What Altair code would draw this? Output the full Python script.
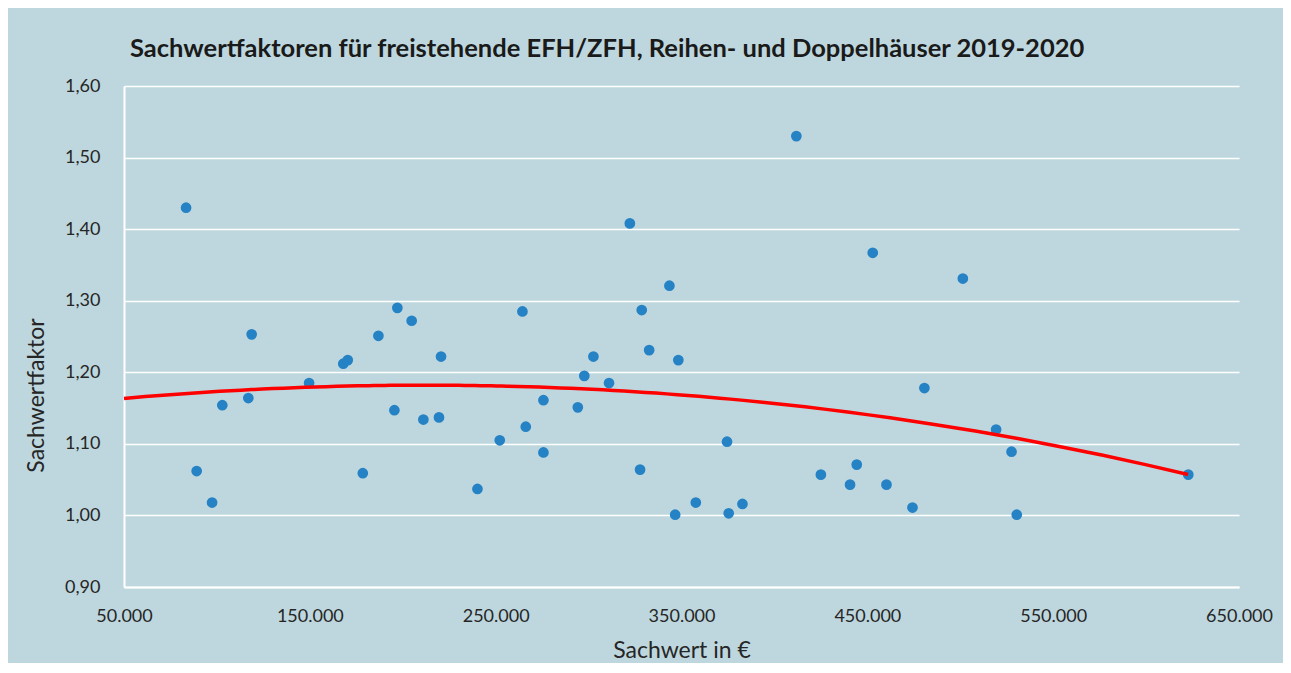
import altair as alt
import pandas as pd

# Sachwert in € (x) and Sachwertfaktor (y)
sachwert = [83400, 89100, 97400, 102900, 116900, 118700, 149600, 168000, 170400,
            178500, 186900, 195500, 197100, 204800, 211100, 219500, 220600, 240200,
            252200, 264400, 266200, 275700, 275700, 294200, 297700, 302600, 311000,
            322200, 327700, 328600, 332600, 343500, 346600, 348300, 357700, 374500,
            375400, 382800, 411800, 425000, 440700, 444300, 452900, 460300, 474300,
            480700, 501400, 519300, 527600, 530400, 622700]
faktor = [1.430, 1.062, 1.018, 1.154, 1.164, 1.253, 1.185, 1.212, 1.217,
          1.059, 1.251, 1.147, 1.290, 1.272, 1.134, 1.137, 1.222, 1.037,
          1.105, 1.285, 1.124, 1.161, 1.088, 1.151, 1.195, 1.222, 1.185,
          1.408, 1.064, 1.287, 1.231, 1.321, 1.001, 1.217, 1.018, 1.103,
          1.003, 1.016, 1.530, 1.057, 1.043, 1.071, 1.367, 1.043, 1.011,
          1.178, 1.331, 1.120, 1.089, 1.001, 1.057]

# Trendline (polynomial) points
trend_x = [50000, 160850, 216440, 270250, 322280, 395840, 489100, 550070, 622600]
trend_y = [1.1636, 1.1790, 1.1831, 1.1807, 1.1728, 1.1556, 1.1272, 1.0983, 1.0569]

x_ticks = [50000, 150000, 250000, 350000, 450000, 550000, 650000]
y_ticks = [0.9, 1.0, 1.1, 1.2, 1.3, 1.4, 1.5, 1.6]

title_text = "Sachwertfaktoren für freistehende EFH/ZFH, Reihen- und Doppelhäuser 2019-2020"

df = pd.DataFrame({"sachwert": sachwert, "faktor": faktor})
df_trend = pd.DataFrame({"sachwert": trend_x, "faktor": trend_y})

x_enc = alt.X("sachwert:Q",
              scale=alt.Scale(domain=[50000, 650000], nice=False, zero=False),
              axis=alt.Axis(values=x_ticks, format=",.0f", title="Sachwert in €",
                            grid=False, labelPadding=20, labelFlush=False,
                            titleBaseline="alphabetic", titleY=70))
y_enc = alt.Y("faktor:Q",
              scale=alt.Scale(domain=[0.9, 1.6], nice=False, zero=False),
              axis=alt.Axis(values=y_ticks, format=".2f", title="Sachwertfaktor",
                            grid=True, labelPadding=24, labelFlush=False,
                            titleAngle=270, titleBaseline="alphabetic",
                            titleAlign="center", titleX=-81, titleY=309))

points = alt.Chart(df).mark_circle(size=115, color="#2582C5", opacity=1).encode(
    x=x_enc, y=y_enc)
trend = alt.Chart(df_trend).transform_regression(
    "sachwert", "faktor", method="poly", order=3, extent=[50000, 622600]
).mark_line(color="#FF0000", strokeWidth=3.5).encode(
    x=alt.X("sachwert:Q"), y=alt.Y("faktor:Q"))

chart = alt.layer(points, trend).properties(
    width=1115, height=501,
    padding={"left": 116, "top": 78, "right": 44, "bottom": 76},
    autosize=alt.AutoSizeParams(type="none"),
    title=alt.TitleParams(title_text, anchor="start", frame="group", dx=6, dy=27,
                          offset=22, font="Lato", fontSize=25.5, fontWeight="bold",
                          color="#1A1A1A", baseline="alphabetic"),
).configure(
    background="#BED7DE",
    locale={"number": {"decimal": ",", "thousands": ".", "grouping": [3],
                       "currency": ["", " €"]}},
).configure_view(stroke=None).configure_axis(
    gridColor="#FFFFFF", gridWidth=1.4, gridOpacity=1,
    domainColor="#FFFFFF", domainWidth=2,
    ticks=False,
    labelFont="Lato", labelFontSize=18, labelColor="#262626",
    titleFont="Lato", titleFontSize=23, titleColor="#262626", titleFontWeight="normal",
)

chart.save("out.html", embed_options={"renderer": "svg", "actions": False})
